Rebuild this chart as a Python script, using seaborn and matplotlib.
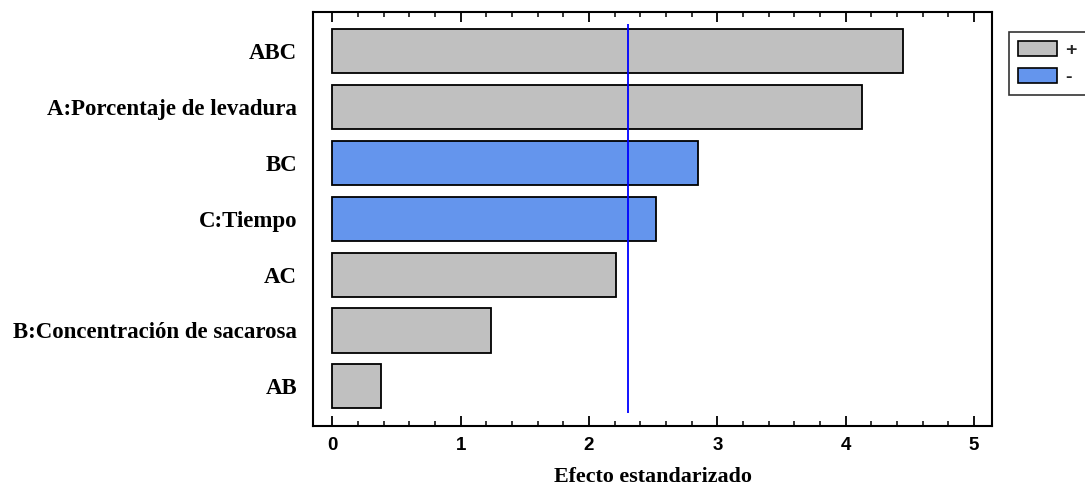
import matplotlib
matplotlib.use("Agg")
import matplotlib.pyplot as plt
from matplotlib.patches import Patch
from matplotlib.ticker import MultipleLocator
import seaborn as sns
import pandas as pd

factors = ["ABC", "A:Porcentaje de levadura", "BC", "C:Tiempo", "AC",
           "B:Concentración de sacarosa", "AB"]
effects = [4.45, 4.13, 2.85, 2.52, 2.21, 1.24, 0.38]
signs = ["+", "+", "-", "-", "+", "+", "+"]
critical = 2.305
x_ticks = [0, 1, 2, 3, 4, 5]
palette = {"+": "#C0C0C0", "-": "#6495ED"}

df = pd.DataFrame({"factor": factors, "effect": effects, "sign": signs})

sns.set_theme(style="white")
fig = plt.figure(figsize=(10.85, 4.86), dpi=100)
ax = fig.add_axes([313/1085, 1-426/486, (992-313)/1085, (426-12)/486])

sns.barplot(data=df, x="effect", y="factor", hue="sign", palette=palette,
            saturation=1, dodge=False, edgecolor="black", linewidth=1.3,
            width=0.79, legend=False, ax=ax, orient="h")

ax.vlines(critical, -0.48, 6.48, color="#0000FF", linewidth=1.3, zorder=5)

ax.set_xlim(-0.15, 5.14)
ax.set_ylim(6.71, -0.70)
ax.set_xticks(x_ticks)
ax.xaxis.set_minor_locator(MultipleLocator(0.2))
ax.tick_params(axis="x", which="major", direction="in", length=7, width=1.3,
               top=True, bottom=True, color="black", pad=8)
ax.tick_params(axis="x", which="minor", direction="in", length=3.5, width=1.1,
               top=True, bottom=True, color="black")
ax.tick_params(axis="y", length=0, pad=11.5)
for lab in ax.get_xticklabels():
    lab.set_fontfamily("Liberation Sans")
    lab.set_fontweight("bold")
    lab.set_fontsize(13.5)
    lab.set_color("black")
for lab in ax.get_yticklabels():
    lab.set_fontfamily("Liberation Serif")
    lab.set_fontweight("bold")
    lab.set_fontsize(16.5)
    lab.set_color("black")

ax.set_ylabel("")
ax.set_xlabel("Efecto estandarizado", fontfamily="Liberation Serif",
              fontweight="bold", fontsize=15.8, color="black", labelpad=9)

for s in ax.spines.values():
    s.set_visible(True)
    s.set_color("black")
    s.set_linewidth(1.5)

handles = [Patch(facecolor=palette[k], edgecolor="black", linewidth=1.2, label=k)
           for k in ["+", "-"]]
leg = fig.legend(handles=handles, loc="upper left",
                 bbox_to_anchor=(1009/1085, 1-32/486), borderaxespad=0,
                 prop={"family": "Liberation Sans", "weight": "bold", "size": 14},
                 frameon=True, fancybox=False, edgecolor="black",
                 handlelength=2.0, handleheight=0.8, borderpad=0.45,
                 labelspacing=0.45, handletextpad=0.45)
leg.get_frame().set_linewidth(1.2)

fig.savefig("out.png", dpi=100)
